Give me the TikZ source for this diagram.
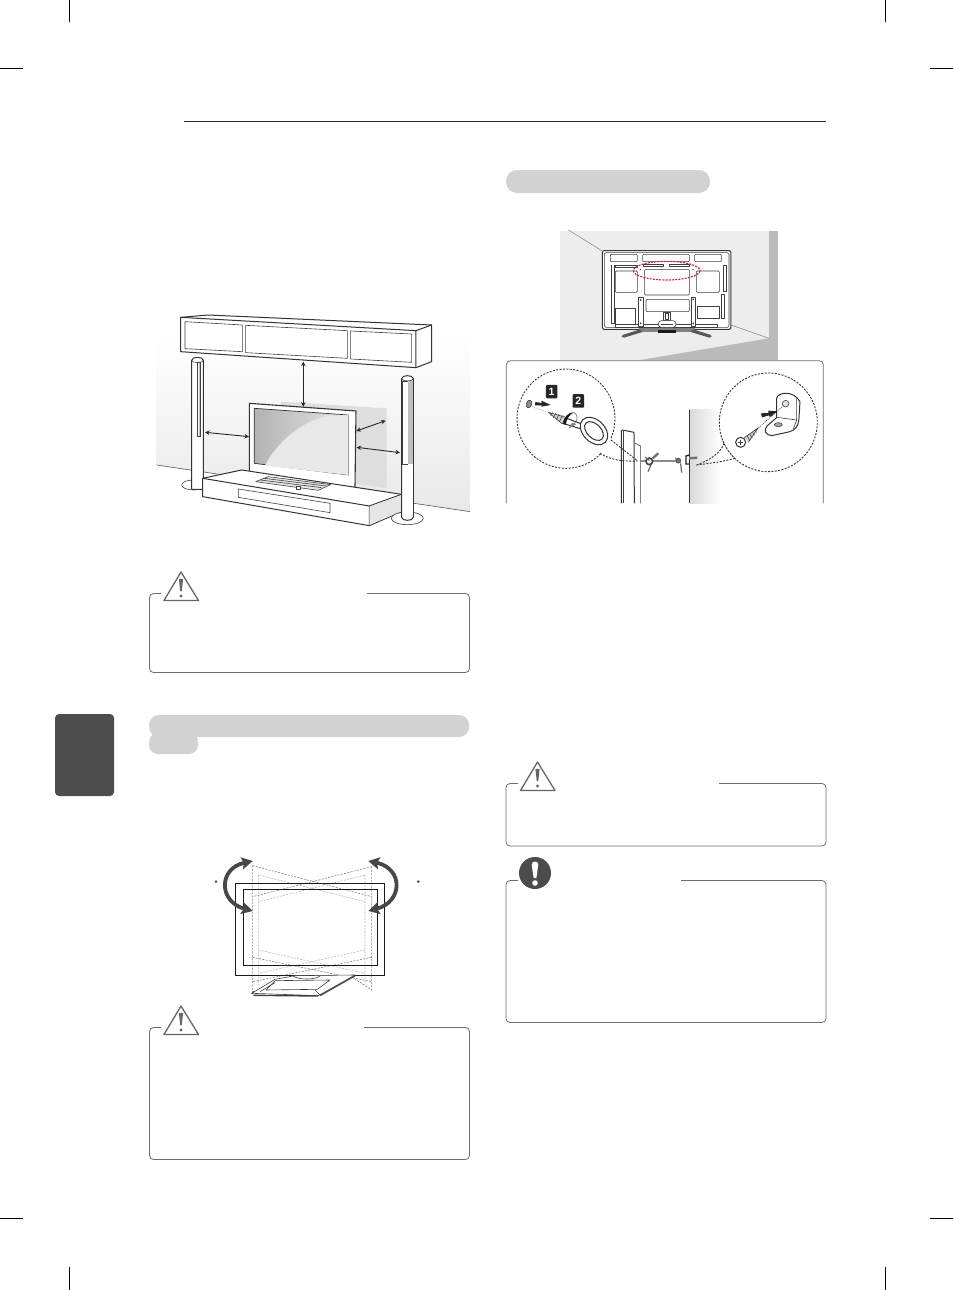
\documentclass[tikz,border=0pt]{standalone}
\usepackage{fontspec}
\setmainfont{Liberation Sans}
\usetikzlibrary{arrows.meta,calc}
\definecolor{pillgray}{HTML}{D2D2D2}
\definecolor{tabgray}{HTML}{4D4D4D}
\definecolor{boxline}{HTML}{6E6E6E}
\definecolor{iconline}{HTML}{666666}
\definecolor{redring}{HTML}{D4145A}
\tikzset{
 crop/.style={line width=0.6pt,black},
 notebox/.style={line width=0.8pt,draw=boxline,rounded corners=4pt},
 lineart/.style={line width=1pt,draw=black!80,line join=round},
 thinart/.style={line width=0.6pt,draw=black!75,line join=round},
 spacearrow/.style={line width=0.9pt,draw=black!85,{Stealth[length=4.5pt,width=4.5pt]}-{Stealth[length=4.5pt,width=4.5pt]}},
 swing/.style={line width=3.8pt,draw=black!72,{Stealth[length=11pt,width=12pt,inset=2pt]}-{Stealth[length=11pt,width=12pt,inset=2pt]}},
 ringdash/.style={line width=0.9pt,draw=black!80,dash pattern=on 2pt off 1.4pt},
 ghost/.style={line width=0.6pt,draw=black!50,dash pattern=on 2pt off 1.3pt},
 ghostlight/.style={line width=0.6pt,draw=black!28,dash pattern=on 2pt off 1.3pt},
 numbox/.style={fill=black!85,text=white,font=\bfseries\fontsize{10.5}{10.5}\selectfont,inner sep=0pt,minimum width=11.5pt,minimum height=13.5pt,rounded corners=1pt},
 warnicon/.pic={
  \draw[line width=1.3pt,draw=iconline,fill=white,line join=round] (0,-28.5)--(-17,0)--(17.5,0)--cycle;
  \fill[iconline] (-2.1,-21.7) -- (2.1,-21.7) -- (0.8,-9.5) -- (-0.8,-9.5) -- cycle;
  \fill[iconline] (0,-4.5) circle (1.6);
 },
 cautionicon/.pic={
  \fill[black!70] (0,0) circle (16);
  \fill[white] (-3.3,-8.5) .. controls (-3.3,-12.5) and (3.3,-12.5) .. (3.3,-8.5) -- (1.4,5) -- (-1.4,5) -- cycle;
  \fill[white] (0,10) circle (2.8);
 }
}
\begin{document}
\begin{tikzpicture}[x=1pt,y=-1pt]
\useasboundingbox[fill=white] (0,0) rectangle (953,1290);
% crop marks
\draw[crop] (69,0)--(69,22); \draw[crop] (885,0)--(885,22);
\draw[crop] (0,68)--(23,68); \draw[crop] (930,68)--(953,68);
\draw[crop] (69,1267)--(69,1290); \draw[crop] (885,1267)--(885,1290);
\draw[crop] (0,1218)--(23,1218); \draw[crop] (930,1218)--(953,1218);
% header rule
\draw[line width=0.8pt,black!85] (184,121.7)--(826,121.7);
% side tab
\fill[tabgray,rounded corners=4pt] (55,714) rectangle (114,796);
% pills
\fill[pillgray,rounded corners=11pt] (506,170) rectangle (710,193);
\fill[pillgray,rounded corners=9pt] (149,733) rectangle (198,754);
\fill[pillgray,rounded corners=10pt] (149,715) rectangle (469,737);

% ------------ first figure -------------
\begin{scope}[shift={(140,300)},x=0.3333pt,y=-0.3333pt]
 \shade[top color=white,bottom color=black!9] (50,110)--(990,110)--(990,635)--(50,495)--cycle;
 \draw[line width=0.6pt,black!65] (50,495)--(990,635);
 \fill[black!13] (422,305)--(740,325)--(740,565)--(422,520)--cycle;
 % cabinet
 \draw[lineart,fill=white] (122,52)--(205,45)--(875,75)--(875,185)--(828,203)--(122,155)--cycle;
 \draw[lineart] (122,52)--(828,92)--(875,75) (828,92)--(828,203);
 \draw[thinart] (135,65)--(307,75)--(307,155)--(135,146)--cycle;
 \draw[thinart] (317,76)--(622,92)--(622,175)--(317,158)--cycle;
 \draw[thinart] (632,93)--(815,102)--(815,187)--(632,177)--cycle;
 % left speaker
 \draw[thinart,fill=white] (160,555) ellipse (35 and 15);
 \draw[lineart,fill=white] (155,181) .. controls (155,169) and (190,169) .. (190,181) -- (190,568) -- (155,568) -- cycle;
 \draw[thinart] (155,181) .. controls (155,190) and (190,190) .. (190,181);
 \draw[thinart,fill=white] (172,186) rectangle (180,410);
 \fill[black!25] (176,188) rectangle (180,408);
 % TV
 \draw[lineart,line width=1.1pt,fill=white] (328,310)--(648,333)--(645,566)--(328,518)--cycle;
 \shade[left color=black!30,right color=black!10,draw=black!80,line width=0.7pt] (343,325)--(625,345)--(625,525)--(343,490)--cycle;
 \fill[black!9] (375,497) .. controls (420,410) and (510,350) .. (580,347)--(625,345)--(625,525)--(375,497)--cycle;
 % stand
 \draw[lineart,fill=white] (188,535)--(305,510)--(785,583)--(785,635)--(688,677)--(188,590)--cycle;
 \draw[lineart] (188,535)--(688,618)--(785,583) (688,618)--(688,677);
 \fill[black!10] (688,620)--(785,585)--(785,634)--(688,675)--cycle;
 \draw[thinart] (295,567)--(570,610)--(570,638)--(295,592)--cycle;
 \draw[thinart,fill=black!10] (347,545)--(385,530)--(572,554)--(535,571)--cycle;
 \draw[thinart] (360,540)--(545,563) (372,535)--(558,558);
 \draw[thinart,fill=white] (470,558) rectangle (482,568);
 % right speaker
 \draw[thinart,fill=white] (802,655) ellipse (48 and 19);
 \draw[lineart,fill=white] (785,236) .. controls (785,224) and (820,224) .. (820,236) -- (820,652) .. controls (820,664) and (785,664) .. (785,652) -- cycle;
 \draw[thinart] (785,236) .. controls (785,245) and (820,245) .. (820,236);
 \draw[thinart,fill=white] (787,243) rectangle (805,492);
 \fill[black!25] (805,244) rectangle (818,645);
 \fill[white] (805,492) rectangle (818,645);
 % clearance arrows
 \coordinate (a1) at (490,185); \coordinate (a2) at (490,320);
 \coordinate (b1) at (195,397); \coordinate (b2) at (327,410);
 \coordinate (c1) at (649,393); \coordinate (c2) at (737,362);
 \coordinate (d1) at (650,442); \coordinate (d2) at (780,458);
 \draw[spacearrow] (a1)--(a2);
 \draw[spacearrow] (b1)--(b2);
 \draw[spacearrow] (c1)--(c2);
 \draw[spacearrow] (d1)--(d2);
\end{scope}

% ------------ note boxes -------------
\draw[notebox] (161,593.5)--(149.5,593.5)--(149.5,672.5)--(469.5,672.5)--(469.5,593.5)--(367,593.5);
\pic at (181,600.5) {warnicon};
\draw[notebox] (161,1027.5)--(149.5,1027.5)--(149.5,1159.5)--(469.5,1159.5)--(469.5,1027.5)--(364,1027.5);
\pic at (181,1034.5) {warnicon};
\draw[notebox] (518,783.5)--(506,783.5)--(506,846)--(826,846)--(826,783.5)--(719,783.5);
\pic at (537.5,790.5) {warnicon};
\draw[notebox] (518,880.5)--(506,880.5)--(506,1022.5)--(826,1022.5)--(826,880.5)--(681,880.5);
\pic at (535,873) {cautionicon};

% ------------ TV rear figure -------------
\begin{scope}[shift={(500,220)},x=0.3333pt,y=-0.3333pt]
 \fill[black!7] (180,33) rectangle (833,420);
 \fill[black!27] (807,33) rectangle (833,420);
 \fill[black!27] (420,420)--(807,355)--(833,355)--(833,420)--cycle;
 \draw[line width=0.5pt,black!50] (205,30)--(307,93) (693,315)--(807,355);
 \draw[lineart,fill=white,rounded corners=1.5pt] (307,92) rectangle (693,328);
 \draw[thinart,rounded corners=1.5pt] (313,98) rectangle (687,322);
 \draw[thinart,rounded corners=1pt] (331,103) rectangle (412,125);
 \draw[thinart,rounded corners=1pt] (428,103) rectangle (568,125);
 \draw[thinart,rounded corners=1pt] (584,103) rectangle (664,125);
 \draw[thinart] (345,135) rectangle (412,143);
 \draw[thinart] (430,134) rectangle (490,140);
 \draw[thinart] (508,134) rectangle (568,140);
 \draw[thinart] (333,135)--(333,310)--(343,310)--(343,135);
 \draw[thinart,rounded corners=1pt] (346,153) rectangle (412,217);
 \draw[thinart,rounded corners=1pt] (434,148) rectangle (568,225);
 \draw[thinart,rounded corners=1pt] (589,153) rectangle (658,217);
 \draw[thinart] (670,136) rectangle (680,215);
 \draw[thinart] (665,222) rectangle (674,295);
 \draw[thinart,rounded corners=1pt] (438,238) rectangle (568,275);
 \draw[thinart] (347,265) rectangle (407,312);
 \draw[thinart,line width=0.8pt] (592,258) rectangle (657,296);
 \draw[thinart] (345,313) rectangle (652,323);
 \draw[thinart,fill=white] (415,232) rectangle (429,320);
 \draw[thinart,fill=white] (573,232) rectangle (587,320);
 \fill[black!80] (422,240) circle (3) (422,310) circle (3) (580,238) circle (3) (580,310) circle (3);
 \fill[black!80] (421,149) circle (2.2) (579,149) circle (2.2);
 \draw[thinart,fill=white] (490,276) rectangle (512,302);
 \draw[thinart] (497,280) rectangle (505,297);
 \draw[thinart,fill=white,rounded corners=3pt] (475,302) rectangle (528,322);
 \draw[thinart] (482,312)--(520,312);
 \fill[black!50] (417,325) rectangle (585,337);
 \fill[black!90] (475,329) rectangle (528,338);
 \fill[black!65] (365,350)--(368,345)--(420,328)--(428,336)--(372,353)--cycle;
 \fill[black!65] (635,350)--(632,345)--(580,328)--(572,336)--(628,353)--cycle;
 \draw[line width=1.1pt,redring,dash pattern=on 2pt off 1.2pt] (500,152) ellipse (100 and 28);
\end{scope}

% ------------ wall fixing figure -------------
\begin{scope}[shift={(500,355)},x=0.3333pt,y=-0.3333pt]
 \shade[left color=black!15,right color=white] (568,165) rectangle (662,445);
 \draw[notebox] (19,445)--(19,17)--(970,17)--(970,445);
 \draw[lineart] (364,445)--(364,228)--(368,225)--(402,232)--(403,445);
 \draw[thinart] (370,228)--(370,445);
 \draw[thinart] (405,265)--(422,273)--(422,445);
 \draw[lineart] (568,165)--(568,445);
 % wire
 \coordinate (wa) at (422,319); \coordinate (wb) at (535,319);
 \draw[line width=2.2pt,black!45] (wa)--(wb);
 % centre eye bolt
 \draw[line width=1.6pt,black!75,fill=white] (448,319) circle (10);
 \draw[line width=2.4pt,black!55] (458,310)--(475,295);
 \draw[line width=1.2pt,black!60] (453,330)--(444,350) (436,307)--(448,316);
 % centre bracket
 \draw[line width=1.4pt,black!85] (568,300) -- (558,303)--(558,327)--(568,327);
 \draw[line width=2.4pt,black!55] (568,310)--(592,308);
 \draw[line width=1.6pt,black!65,fill=white] (535,317) circle (6);
 \draw[line width=1.2pt,black!60] (542,325)--(545,353) (526,310)--(542,322);
 % left detail ring
 \coordinate (lt1) at (333,255); \coordinate (lt2) at (300,295); \coordinate (lt) at (413,318);
 \draw[ringdash] plot[smooth,domain=45:384,samples=70] ({198+147*cos(\x)},{191+149*sin(\x)});
 \draw[ringdash] (lt1)--(lt);
 \draw[ringdash] (lt2) .. controls (330,315) and (370,320) .. (lt);
 % right detail ring
 \coordinate (rt1) at (672,265); \coordinate (rt2) at (705,310); \coordinate (rt) at (590,330);
 \draw[ringdash] plot[smooth,domain=135:519,samples=70] ({805+147*cos(\x)},{202+148*sin(\x)});
 \draw[ringdash] (rt1) .. controls (660,300) and (620,318) .. (rt);
 \draw[ringdash] (rt2) .. controls (670,320) and (630,325) .. (rt);
 % anchor and arrow 1
 \draw[thinart,fill=black!45,rotate around={-20:(87,147)}] (87,147) ellipse (8 and 12);
 \draw[line width=0.4pt,black!50,dash pattern=on 1pt off 1pt] (95,155)--(145,172);
 \fill[black!85] (106,141)--(125,144)--(125,137)--(152,150)--(124,155)--(125,151)--(105,151)--cycle;
 \node[numbox] (n1) at (155,110) {1};
 \node[numbox] (n2) at (235,138) {2};
 % eye bolt
 \draw[lineart,fill=white] (195,188)--(248,208)--(244,222)--(188,205)--cycle;
 \fill[black!18] (145,172)--(195,186)--(186,206)--cycle;
 \draw[thinart] (145,172)--(195,186) (145,172)--(186,206);
 \draw[thinart] (157,172)--(152,182) (167,175)--(160,188) (177,178)--(169,194) (187,181)--(178,200);
 \draw[lineart,fill=white,rotate around={-45:(282,228)}] (282,228) ellipse (48 and 33);
 \draw[lineart,fill=white,rotate around={-45:(282,228)}] (282,228) ellipse (34 and 21);
 % twist arrow
 \fill[black!90] (190,207) .. controls (190,188) and (205,170) .. (222,172) .. controls (208,178) and (200,192) .. (197,210)--cycle;
 \draw[line width=0.7pt,black!50] (222,172) .. controls (235,180) and (234,198) .. (222,208);
 \fill[black!50] (228,208)--(205,222)--(216,203)--cycle;
 % bracket
 \draw[lineart,fill=white] (830,188)--(830,130) .. controls (832,112) and (880,104) .. (900,140)
   -- (897,190) .. controls (895,215) and (885,225) .. (870,230) -- (815,242) .. controls (795,240) and (790,225) .. (802,212) -- cycle;
 \draw[thinart] (830,187)--(890,195)--(890,130) (890,195)--(880,222);
 \draw[thinart,fill=black!12] (857,146) circle (10);
 \draw[thinart,fill=black!35] (835,209) ellipse (12 and 6);
 \draw[thinart,dash pattern=on 1pt off 1pt] (772,222)--(852,150);
 \fill[black!85] (783,175)--(805,174)--(805,167)--(832,169)--(810,186)--(807,181)--(786,187)--cycle;
 % bracket screw
 \fill[black!18] (733,248)--(775,218)--(745,262)--cycle;
 \draw[thinart] (733,248)--(775,218)--(745,262);
 \draw[thinart] (742,243)--(750,257) (750,238)--(757,250) (758,232)--(763,242) (766,226)--(769,233);
 \draw[lineart,fill=white] (722,262) circle (15);
 \draw[thinart] (715,262)--(729,262) (722,255)--(722,269);
\end{scope}

% ------------ swivel figure -------------
\begin{scope}[shift={(190,850)},x=0.3333pt,y=-0.3333pt]
 \fill[black!65] (78,95) circle (4.5) (685,95) circle (4.5);
 % ghosted outlines
 \draw[ghostlight] (205,75)--(525,155) (525,75)--(205,155) (205,75)--(205,405) (525,75)--(525,405);
 \draw[ghostlight] (205,300)--(525,370) (525,300)--(205,370);
 \draw[ghost] (188,47)--(545,140) (545,50)--(188,140);
 \draw[ghost] (188,322)--(545,395) (545,322)--(188,395);
 \draw[ghost] (188,47)--(188,432) (545,50)--(545,420)--(478,376);
 % solid frames
 \draw[line width=1.1pt,black!90] (136,100) rectangle (583,376);
 \draw[line width=1.1pt,black!90] (160,118) rectangle (562,346);
 % base
 \draw[thinart,fill=white] (255,388)--(185,430)--(385,437)--(495,375)--(315,377)--cycle;
 \draw[thinart,fill=white] (255,392)--(420,390)--(382,418)--(228,420)--cycle;
 \draw[thinart] (210,425)--(255,398);
 \draw[thinart] (375,420)--(390,435);
 \draw[line width=1.4pt,black!75] (190,436)--(385,438);
 \draw[line width=1.3pt,black!70] (390,437)--(496,377);
 \draw[line width=0.9pt,black!75] (185,431)--(192,424);
 \draw[thinart] (310,378) .. controls (325,390) and (375,390) .. (390,378);
 % swing arrows
 \coordinate (sl1) at (188,33); \coordinate (sl2) at (188,183);
 \coordinate (sr1) at (535,33); \coordinate (sr2) at (535,183);
 \draw[swing] (sl1) .. controls (85,55) and (85,155) .. (sl2);
 \draw[swing] (sr1) .. controls (640,55) and (640,155) .. (sr2);
\end{scope}
\end{tikzpicture}
\end{document}
